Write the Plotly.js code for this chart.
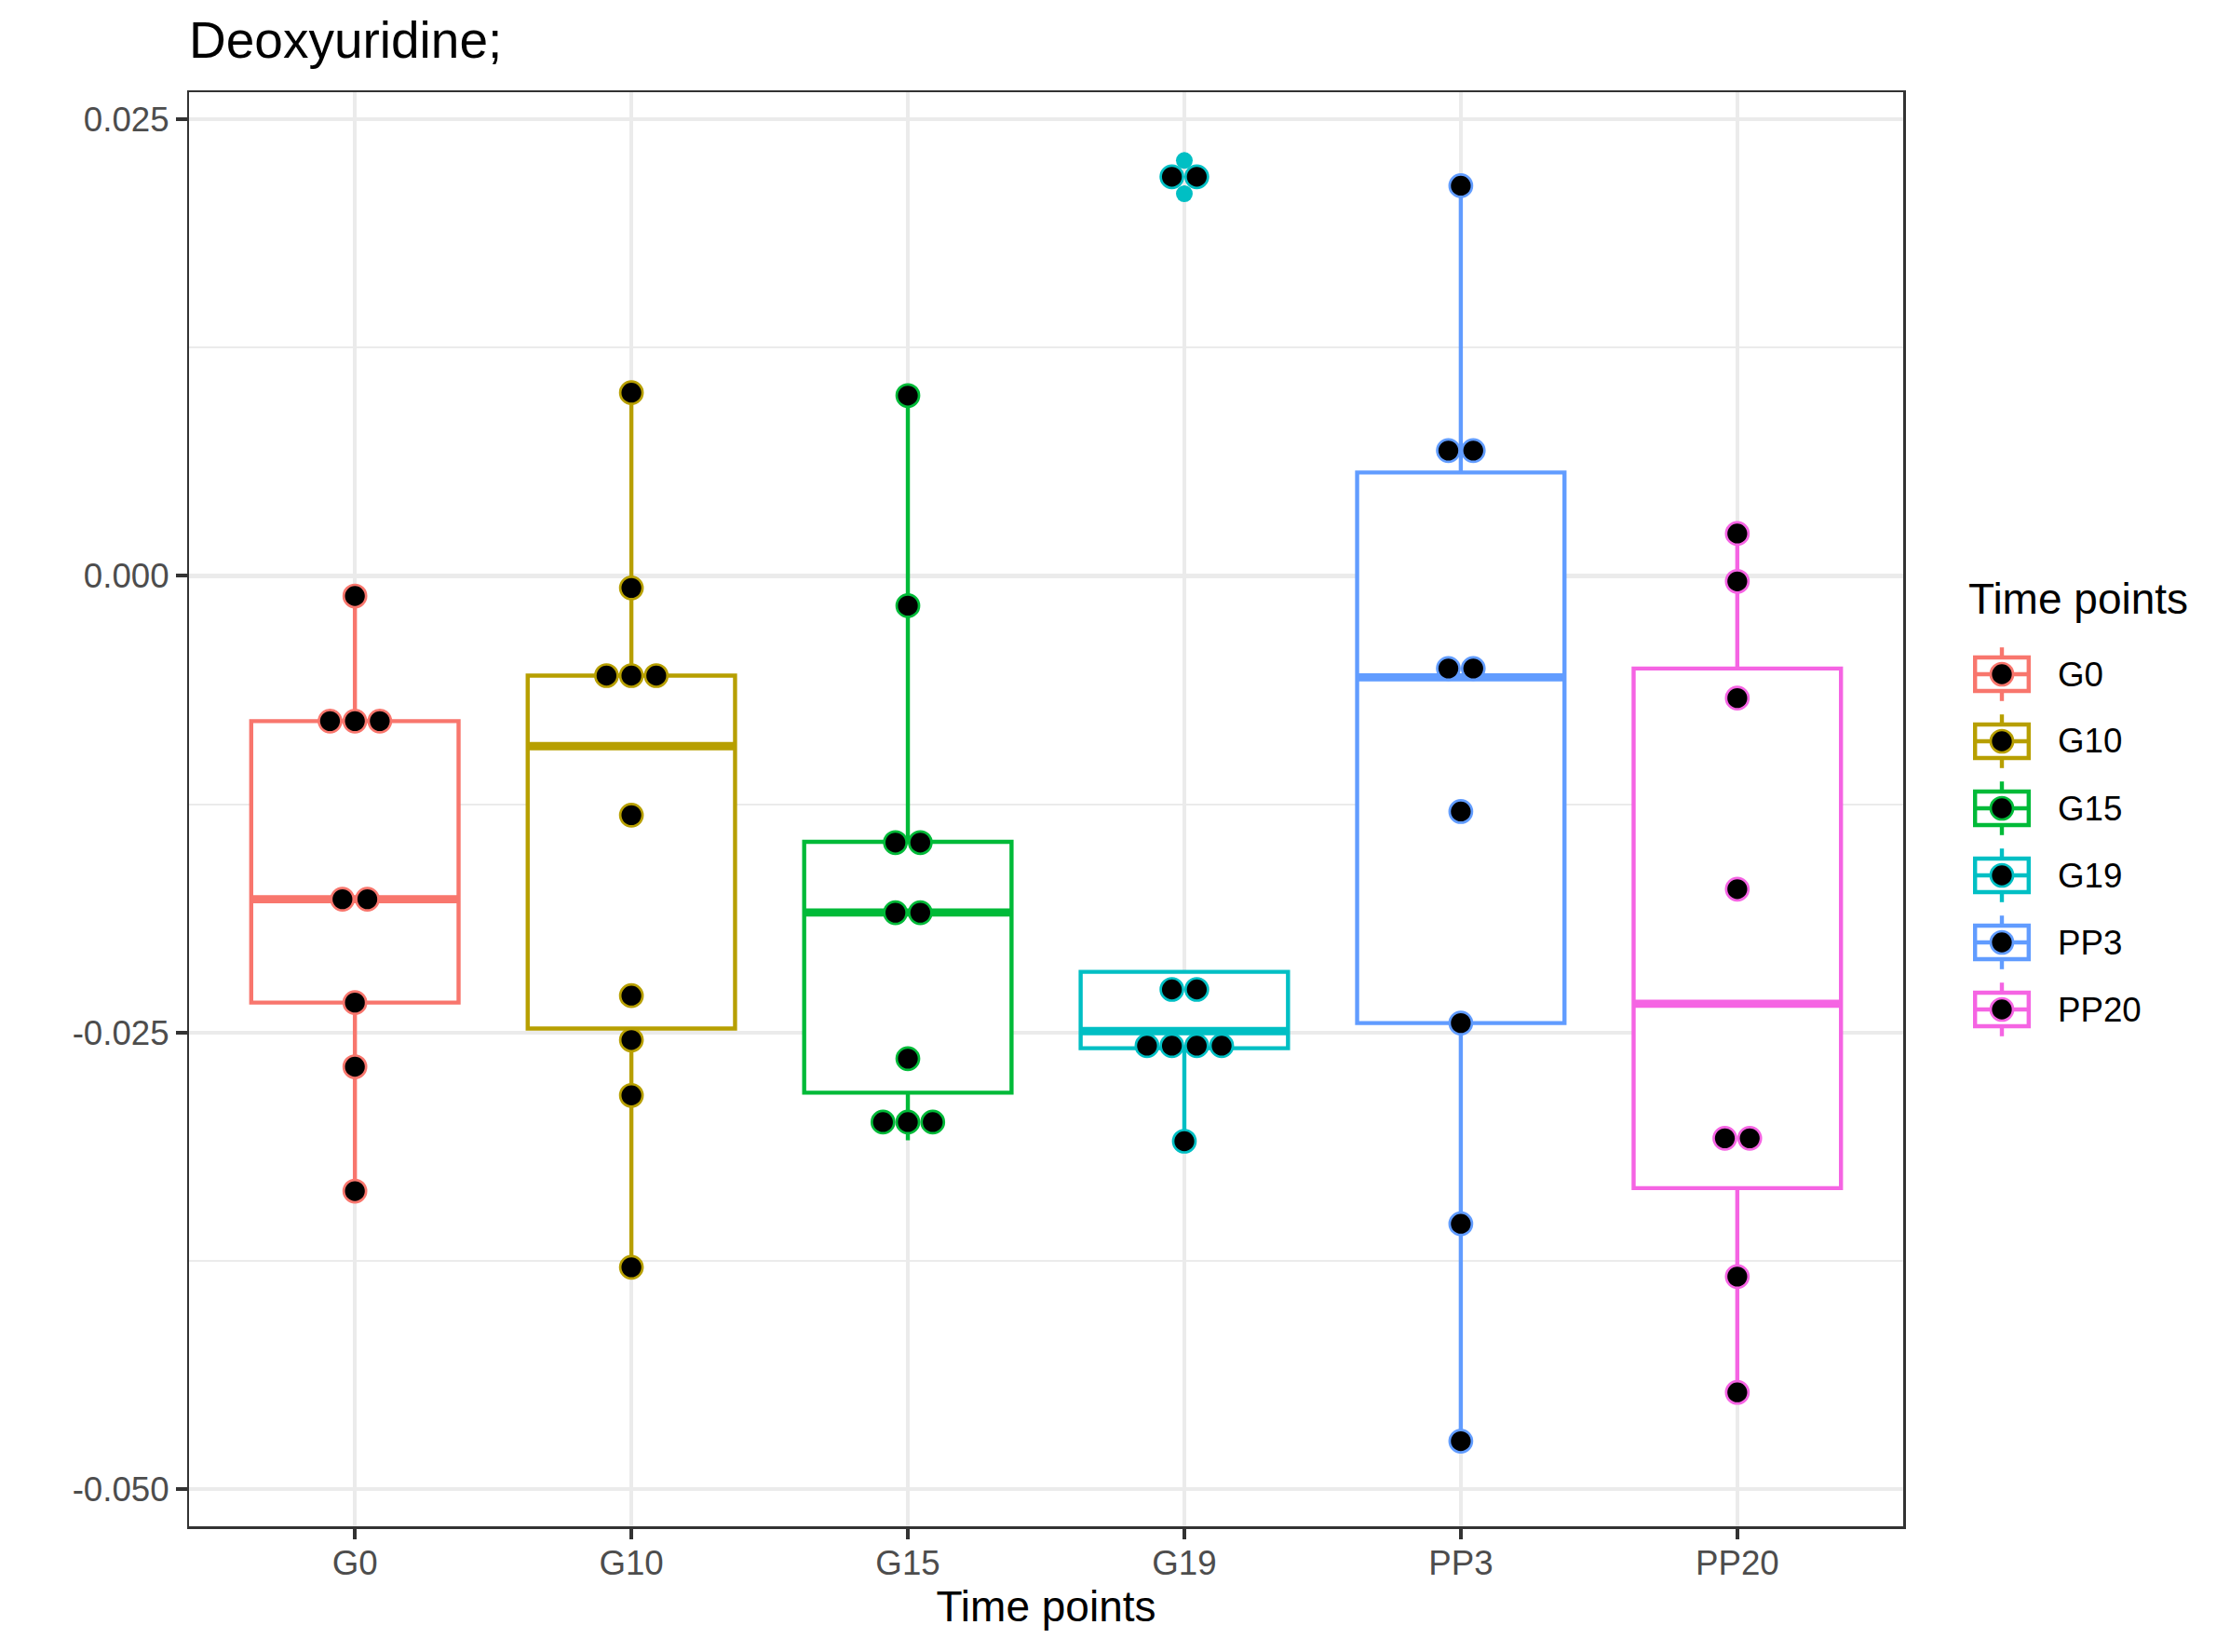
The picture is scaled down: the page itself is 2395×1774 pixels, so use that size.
<!DOCTYPE html>
<html>
<head>
<meta charset="utf-8">
<script src="https://cdn.plot.ly/plotly-3.0.1.min.js"></script>
<style>html,body{margin:0;padding:0;background:#fff;}#chart{width:2395px;height:1774px;}</style>
</head>
<body>
<div id="chart"></div>
<script>
// ---- data ----
const categories = ['G0', 'G10', 'G15', 'G19', 'PP3', 'PP20'];
const colors = ['#F8766D', '#B79F00', '#00BA38', '#00BFC4', '#619CFF', '#F564E3'];

// dot (binned) values per group
const dotsG0   = [-0.0011, -0.00795, -0.00795, -0.00795, -0.0177, -0.0177, -0.02336, -0.02687, -0.03368];
const dotsG10  = [0.01003, -0.00066, -0.00546, -0.00546, -0.00546, -0.0131, -0.02298, -0.02541, -0.02844, -0.03785];
const dotsG15  = [0.00987, -0.00163, -0.0146, -0.0146, -0.01844, -0.01844, -0.02643, -0.0299, -0.0299, -0.0299];
const dotsG19  = [0.02185, 0.02185, -0.02264, -0.02264, -0.02572, -0.02572, -0.02572, -0.02572, -0.03095];
const dotsPP3  = [0.02136, 0.00686, 0.00686, -0.00507, -0.00507, -0.0129, -0.02448, -0.03547, -0.04737];
const dotsPP20 = [0.00232, -0.0003, -0.00669, -0.01715, -0.03079, -0.03079, -0.03836, -0.0447];

// box statistics per group
const boxQ1      = [-0.02336, -0.02478, -0.02829, -0.02586, -0.02448, -0.03352];
const boxMedian  = [-0.01770, -0.00932, -0.01843, -0.02492, -0.00555, -0.02342];
const boxQ3      = [-0.00795, -0.00546, -0.01456, -0.02168, 0.00566, -0.00507];
const whiskerLow = [-0.03368, -0.03785, -0.03090, -0.03095, -0.04737, -0.0447];
const whiskerHigh= [-0.0011, 0.01003, 0.00987, -0.02168, 0.02136, 0.00232];
// outliers of the box plot (group G19)
const outlierGroup = ['G19', 'G19'];
const outlierValues = [0.02274, 0.02092];

const yTickVals = [-0.05, -0.025, 0, 0.025];
const yTickText = ['-0.050', '-0.025', '0.000', '0.025'];

const titleText = 'Deoxyuridine;';
const xTitle = 'Time points';
const legendTitle = 'Time points';

// ---- drawing ----
const dotGroups = [dotsG0, dotsG10, dotsG15, dotsG19, dotsPP3, dotsPP20];
const FONT = 'Liberation Sans, Arial, Helvetica, sans-serif';
const BOXW = 0.75;
const DOT_STEP = 0.09;
const traces = [];

categories.forEach((c, i) => {
  traces.push({
    type: 'box', name: c, x: [i],
    q1: [boxQ1[i]], median: [boxMedian[i]], q3: [boxQ3[i]],
    lowerfence: [whiskerLow[i]], upperfence: [whiskerHigh[i]],
    width: BOXW, whiskerwidth: 0, boxpoints: false,
    fillcolor: 'white', line: {color: colors[i], width: 4.4},
    showlegend: false, hoverinfo: 'skip'
  });
});
categories.forEach((c, i) => {
  traces.push({
    type: 'scatter', mode: 'lines', x: [i - BOXW / 2, i + BOXW / 2], y: [boxMedian[i], boxMedian[i]],
    line: {color: colors[i], width: 8.8}, showlegend: false, hoverinfo: 'skip'
  });
});
// outliers
traces.push({
  type: 'scatter', mode: 'markers',
  x: outlierGroup.map(g => categories.indexOf(g)), y: outlierValues,
  marker: {color: outlierGroup.map(g => colors[categories.indexOf(g)]), size: 18, line: {width: 0}},
  showlegend: false, hoverinfo: 'skip'
});
// dots, stacked centrally for equal values
dotGroups.forEach((vals, i) => {
  const counts = {};
  vals.forEach(v => { counts[v] = (counts[v] || 0) + 1; });
  const seen = {};
  const xs = [], ys = [];
  vals.forEach(v => {
    const k = seen[v] || 0; seen[v] = k + 1;
    xs.push(i + (k - (counts[v] - 1) / 2) * DOT_STEP);
    ys.push(v);
  });
  traces.push({
    type: 'scatter', mode: 'markers', x: xs, y: ys, name: categories[i],
    marker: {color: 'black', size: 24, line: {color: colors[i], width: 2.7}},
    showlegend: false, hoverinfo: 'skip', cliponaxis: false
  });
});

// manual legend (ggplot-style keys)
const W = 2395, H = 1774, ML = 203, MR = 351, MT = 99, MB = 135;
const pw = W - ML - MR, ph = H - MT - MB;
const px2x = X => (X - ML) / pw;
const px2y = Y => (H - MB - Y) / ph;
const keyX = 2150, rowY0 = 724, rowStep = 72, labelX = 2208;
const shapes = [], annotations = [];
categories.forEach((c, i) => {
  const ax = px2x(keyX), ay = px2y(rowY0 + i * rowStep);
  const base = {xref: 'paper', yref: 'paper', xsizemode: 'pixel', ysizemode: 'pixel', xanchor: ax, yanchor: ay};
  shapes.push(Object.assign({}, base, {type: 'line', x0: 0, x1: 0, y0: 18, y1: 28.8, line: {color: colors[i], width: 4.4}}));
  shapes.push(Object.assign({}, base, {type: 'line', x0: 0, x1: 0, y0: -18, y1: -28.8, line: {color: colors[i], width: 4.4}}));
  shapes.push(Object.assign({}, base, {type: 'rect', x0: -28.8, x1: 28.8, y0: -18, y1: 18, fillcolor: 'white', line: {color: colors[i], width: 4.4}}));
  shapes.push(Object.assign({}, base, {type: 'line', x0: -28.8, x1: 28.8, y0: 0, y1: 0, line: {color: colors[i], width: 4.4}}));
  shapes.push(Object.assign({}, base, {type: 'circle', x0: -12, x1: 12, y0: -12, y1: 12, fillcolor: 'black', line: {color: colors[i], width: 2.7}}));
  annotations.push({xref: 'paper', yref: 'paper', x: px2x(labelX), y: ay, xanchor: 'left', yanchor: 'middle',
    text: c, showarrow: false, font: {family: FONT, size: 36.7, color: 'black'}});
});
annotations.push({xref: 'paper', yref: 'paper', x: px2x(2112), y: px2y(643), xanchor: 'left', yanchor: 'middle',
  text: legendTitle, showarrow: false, font: {family: FONT, size: 46, color: 'black'}});

const layout = {
  width: W, height: H,
  margin: {l: ML, r: MR, t: MT, b: MB, pad: 0},
  paper_bgcolor: 'white', plot_bgcolor: 'white',
  font: {family: FONT, color: 'black'},
  showlegend: false,
  title: {text: titleText, font: {family: FONT, size: 55, color: 'black'},
    x: 0, xref: 'paper', xanchor: 'left', y: 1 - 43 / H, yref: 'container', yanchor: 'middle'},
  xaxis: {
    type: 'linear', range: [-0.6, categories.length - 0.4],
    tickmode: 'array', tickvals: categories.map((c, i) => i), ticktext: categories,
    showgrid: true, gridcolor: '#EBEBEB', gridwidth: 4.4, zeroline: false,
    showline: true, mirror: true, linecolor: '#333333', linewidth: 2.5,
    ticks: 'outside', ticklen: 11.5, tickwidth: 4, tickcolor: '#333333',
    ticklabelstandoff: -6,
    tickfont: {family: FONT, size: 36.7, color: '#4D4D4D'},
    title: {text: xTitle, font: {family: FONT, size: 46, color: 'black'}, standoff: 8}
  },
  yaxis: {
    range: [-0.05203, 0.02648],
    tickmode: 'array', tickvals: yTickVals, ticktext: yTickText,
    showgrid: true, gridcolor: '#EBEBEB', gridwidth: 4.4, zeroline: false,
    minor: {tickmode: 'linear', tick0: 0, dtick: 0.0125, showgrid: true, gridcolor: '#EBEBEB', gridwidth: 2.2, ticks: ''},
    showline: true, mirror: true, linecolor: '#333333', linewidth: 2.5,
    ticks: 'outside', ticklen: 11.5, tickwidth: 4, tickcolor: '#333333',
    tickfont: {family: FONT, size: 36.7, color: '#4D4D4D'}
  },
  shapes: shapes,
  annotations: annotations
};

Plotly.newPlot('chart', traces, layout, {staticPlot: true, displayModeBar: false});
</script>
</body>
</html>
